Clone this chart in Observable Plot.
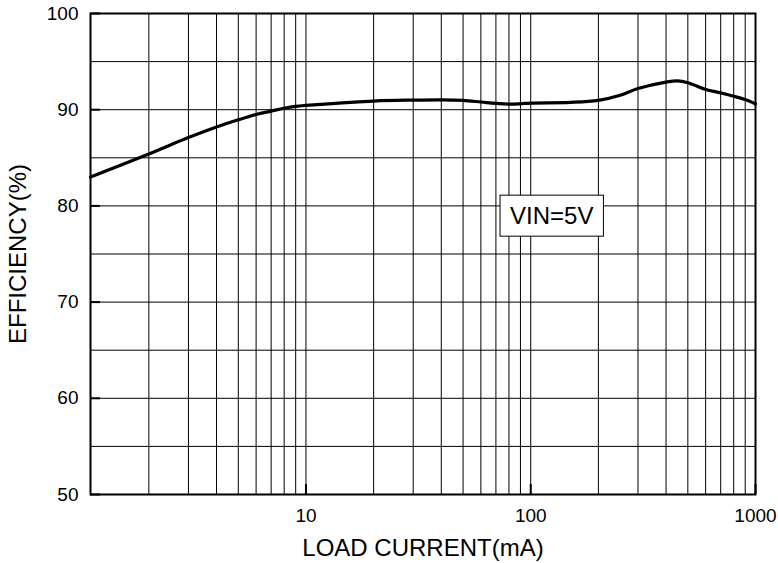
<!DOCTYPE html>
<html>
<head>
<meta charset="utf-8">
<script src="https://cdn.jsdelivr.net/npm/d3@7"></script>
<script src="https://cdn.jsdelivr.net/npm/@observablehq/plot@0.6"></script>
<style>
  html, body { margin: 0; padding: 0; background: #fff; }
</style>
</head>
<body>
<script>
// Efficiency vs. load current, VIN = 5 V
const loadCurrent = [1.1, 2, 3, 4, 5, 6, 7, 8, 9, 10, 20, 30, 40, 50, 60, 70, 80, 90, 100, 150, 200, 250, 300, 400, 450, 500, 600, 700, 800, 900, 1000];
const efficiency  = [83.0, 85.4, 87.1, 88.2, 88.95, 89.5, 89.85, 90.15, 90.35, 90.45, 90.9, 91.0, 91.03, 90.97, 90.8, 90.65, 90.58, 90.62, 90.69, 90.76, 90.97, 91.5, 92.2, 92.87, 93.0, 92.8, 92.1, 91.75, 91.4, 91.05, 90.6];

const xTickLabels = [10, 100, 1000];
const yTickLabels = [50, 60, 70, 80, 90, 100];
const xGrid = [2, 3, 4, 5, 6, 7, 8, 9, 10, 20, 30, 40, 50, 60, 70, 80, 90, 100, 200, 300, 400, 500, 600, 700, 800, 900];
const yGrid = [55, 60, 65, 70, 75, 80, 85, 90, 95];

const xTitle = "LOAD CURRENT(mA)";
const yTitle = "EFFICIENCY(%)";
const note = "VIN=5V";
const noteAt = {x: 124, y: 78.9};

const curve = loadCurrent.map((x, i) => ({x, y: efficiency[i]}));

const chart = Plot.plot({
  width: 778,
  height: 563,
  marginLeft: 90,
  marginRight: 23,
  marginTop: 13,
  marginBottom: 69,
  style: {fontFamily: "'Liberation Sans', Arial, sans-serif", fontSize: "19px", color: "#000", background: "#fff"},
  x: {type: "log", domain: [1.1, 1000]},
  y: {domain: [50, 100]},
  marks: [
    Plot.ruleX(xGrid, {stroke: "#000", strokeWidth: 1}),
    Plot.ruleY(yGrid, {stroke: "#000", strokeWidth: 1}),
    // short inward ticks on the left and bottom edges
    Plot.axisY(yTickLabels, {anchor: "left", tickSize: 10, dx: 10, text: null, strokeWidth: 2, label: null}),
    Plot.axisX(xTickLabels, {anchor: "bottom", tickSize: 10, dy: -10, text: null, strokeWidth: 2, label: null}),
    Plot.axisY(yTickLabels, {anchor: "left", tickSize: 0, tickPadding: 12, label: null, fontSize: 19}),
    Plot.axisX(xTickLabels, {anchor: "bottom", tickSize: 0, tickPadding: 14, label: null, fontSize: 19, tickFormat: d => String(d)}),
    Plot.frame({stroke: "#000", strokeWidth: 2}),
    Plot.line(curve, {x: "x", y: "y", stroke: "#000", strokeWidth: 3.2, curve: "catmull-rom"}),
    Plot.text([note], {x: () => noteAt.x, y: () => noteAt.y, text: d => d, fontSize: 24, fill: "#000"}),
    Plot.text([xTitle], {frameAnchor: "bottom", dy: 54, text: d => d, fontSize: 24, fill: "#000", lineAnchor: "middle", textAnchor: "middle"}),
    Plot.text([yTitle], {frameAnchor: "left", dx: -72, rotate: -90, text: d => d, fontSize: 24, fill: "#000", lineAnchor: "middle", textAnchor: "middle"})
  ]
});

document.body.append(chart);

// white box with a thin border behind the note
const noteText = Array.from(chart.querySelectorAll("text")).find(t => t.textContent === note);
if (noteText) {
  const b = noteText.getBBox();
  const padX = 10, padY = 8;
  const rect = document.createElementNS("http://www.w3.org/2000/svg", "rect");
  const tr = noteText.getAttribute("transform");
  if (tr) rect.setAttribute("transform", tr);
  rect.setAttribute("x", b.x - padX);
  rect.setAttribute("y", b.y - padY + 1);
  rect.setAttribute("width", b.width + 2 * padX);
  rect.setAttribute("height", b.height + 2 * padY - 2);
  rect.setAttribute("fill", "#fff");
  rect.setAttribute("stroke", "#000");
  rect.setAttribute("stroke-width", 1);
  noteText.parentNode.insertBefore(rect, noteText);
}
</script>
</body>
</html>
